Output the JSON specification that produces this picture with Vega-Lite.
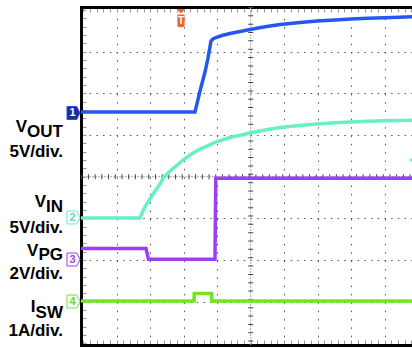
{
  "$schema": "https://vega.github.io/schema/vega-lite/v6.json",
  "width": 331,
  "height": 338,
  "autosize": {"type": "none"},
  "padding": {"left": 81, "top": 7, "right": 0, "bottom": 3},
  "background": "white",
  "config": {"view": {"stroke": null}},
  "datasets": {
    "traces": [
      {"ch": "VOUT", "t": -0.07, "v": 5.55},
      {"ch": "VOUT", "t": 3.337, "v": 5.55},
      {"ch": "VOUT", "t": 3.487, "v": 6.055},
      {"ch": "VOUT", "t": 3.636, "v": 6.511},
      {"ch": "VOUT", "t": 3.725, "v": 6.847},
      {"ch": "VOUT", "t": 3.815, "v": 7.254},
      {"ch": "VOUT", "t": 3.875, "v": 7.302},
      {"ch": "VOUT", "t": 3.964, "v": 7.338},
      {"ch": "VOUT", "t": 4.143, "v": 7.386},
      {"ch": "VOUT", "t": 4.382, "v": 7.434},
      {"ch": "VOUT", "t": 4.681, "v": 7.482},
      {"ch": "VOUT", "t": 4.979, "v": 7.53},
      {"ch": "VOUT", "t": 5.427, "v": 7.595},
      {"ch": "VOUT", "t": 5.875, "v": 7.65},
      {"ch": "VOUT", "t": 6.472, "v": 7.698},
      {"ch": "VOUT", "t": 6.979, "v": 7.734},
      {"ch": "VOUT", "t": 7.516, "v": 7.758},
      {"ch": "VOUT", "t": 7.994, "v": 7.782},
      {"ch": "VOUT", "t": 8.501, "v": 7.799},
      {"ch": "VOUT", "t": 8.979, "v": 7.813},
      {"ch": "VOUT", "t": 9.457, "v": 7.825},
      {"ch": "VOUT", "t": 9.85, "v": 7.835},
      {"ch": "VIN", "t": -0.07, "v": 3.01},
      {"ch": "VIN", "t": 1.696, "v": 3.01},
      {"ch": "VIN", "t": 1.785, "v": 3.177},
      {"ch": "VIN", "t": 1.875, "v": 3.321},
      {"ch": "VIN", "t": 1.996, "v": 3.465},
      {"ch": "VIN", "t": 2.143, "v": 3.657},
      {"ch": "VIN", "t": 2.293, "v": 3.825},
      {"ch": "VIN", "t": 2.385, "v": 3.969},
      {"ch": "VIN", "t": 2.594, "v": 4.137},
      {"ch": "VIN", "t": 2.773, "v": 4.257},
      {"ch": "VIN", "t": 2.982, "v": 4.4},
      {"ch": "VIN", "t": 3.188, "v": 4.52},
      {"ch": "VIN", "t": 3.487, "v": 4.664},
      {"ch": "VIN", "t": 3.696, "v": 4.736},
      {"ch": "VIN", "t": 3.994, "v": 4.844},
      {"ch": "VIN", "t": 4.382, "v": 4.94},
      {"ch": "VIN", "t": 4.979, "v": 5.048},
      {"ch": "VIN", "t": 5.427, "v": 5.12},
      {"ch": "VIN", "t": 5.875, "v": 5.18},
      {"ch": "VIN", "t": 6.472, "v": 5.228},
      {"ch": "VIN", "t": 6.979, "v": 5.264},
      {"ch": "VIN", "t": 7.516, "v": 5.293},
      {"ch": "VIN", "t": 7.994, "v": 5.312},
      {"ch": "VIN", "t": 8.501, "v": 5.329},
      {"ch": "VIN", "t": 8.979, "v": 5.341},
      {"ch": "VIN", "t": 9.457, "v": 5.348},
      {"ch": "VIN", "t": 9.85, "v": 5.353},
      {"ch": "VPG", "t": -0.07, "v": 2.278},
      {"ch": "VPG", "t": 1.875, "v": 2.278},
      {"ch": "VPG", "t": 1.949, "v": 2.02},
      {"ch": "VPG", "t": 3.934, "v": 2.02},
      {"ch": "VPG", "t": 3.958, "v": 3.962},
      {"ch": "VPG", "t": 9.85, "v": 3.962},
      {"ch": "ISW", "t": -0.07, "v": 1.019},
      {"ch": "ISW", "t": 3.31, "v": 1.019},
      {"ch": "ISW", "t": 3.316, "v": 1.199},
      {"ch": "ISW", "t": 3.83, "v": 1.199},
      {"ch": "ISW", "t": 3.836, "v": 1.019},
      {"ch": "ISW", "t": 9.85, "v": 1.019}
    ],
    "grounds": [
      {"ch": "VOUT", "num": "1", "v": 5.528},
      {"ch": "VIN", "num": "2", "v": 3.022},
      {"ch": "VPG", "num": "3", "v": 2.014},
      {"ch": "ISW", "num": "4", "v": 1.007}
    ],
    "labels": [
      {"text": "V", "t": -1.678, "v": 5.072},
      {"text": "OUT", "t": -0.603, "v": 4.952},
      {"text": "5V/div.", "t": -0.603, "v": 4.48},
      {"text": "V", "t": -1.11, "v": 3.281},
      {"text": "IN", "t": -0.603, "v": 3.153},
      {"text": "5V/div.", "t": -0.603, "v": 2.65},
      {"text": "V", "t": -1.337, "v": 2.106},
      {"text": "PG", "t": -0.603, "v": 1.998},
      {"text": "2V/div.", "t": -0.603, "v": 1.54},
      {"text": "I", "t": -1.421, "v": 0.748},
      {"text": "SW", "t": -0.603, "v": 0.612},
      {"text": "1A/div.", "t": -0.603, "v": 0.17}
    ],
    "trigger": [{"label": "T", "t": 2.919}],
    "level": [{"ch": "VIN", "t": 9.785, "v": 4.4}]
  },
  "resolve": {"axis": {"x": "independent", "y": "independent"}, "scale": {"fill": "independent"}},
  "layer": [
    {
      "data": {"values": [{}]},
      "mark": {"type": "rule", "color": "#aaaaaa", "strokeDash": [2, 1], "strokeWidth": 1},
      "encoding": {
        "x": {"datum": 5, "type": "quantitative", "scale": {"domain": [-0.0657, 9.815], "nice": false, "zero": false},
          "axis": {"orient": "bottom", "values": [1, 2, 3, 4, 6, 7, 8, 9], "grid": true, "gridColor": "#555555", "gridDash": [1.5, 6.84], "gridWidth": 1, "domain": false, "ticks": false, "labels": false, "title": null}}
      }
    },
    {
      "data": {"values": [{}]},
      "mark": {"type": "rule", "color": "#444444", "strokeDash": [1, 7.34], "strokeWidth": 5},
      "encoding": {
        "x": {"datum": 5, "type": "quantitative", "scale": {"domain": [-0.0657, 9.815], "nice": false, "zero": false}, "axis": null}
      }
    },
    {
      "data": {"values": [{}]},
      "mark": {"type": "rule", "color": "#aaaaaa", "strokeDash": [2, 1], "strokeWidth": 1},
      "encoding": {
        "y": {"datum": 4, "type": "quantitative", "scale": {"domain": [-0.036, 8.07], "nice": false, "zero": false},
          "axis": {"orient": "left", "values": [1, 2, 3, 5, 6, 7], "grid": true, "gridColor": "#555555", "gridDash": [1.5, 5.2], "gridDashOffset": 5.25, "gridWidth": 1, "domain": false, "ticks": false, "labels": false, "title": null}}
      }
    },
    {
      "data": {"values": [{}]},
      "mark": {"type": "rule", "color": "#444444", "strokeDash": [1, 5.7], "strokeDashOffset": 5.25, "strokeWidth": 5},
      "encoding": {
        "y": {"datum": 4, "type": "quantitative", "scale": {"domain": [-0.036, 8.07], "nice": false, "zero": false}, "axis": null}
      }
    },
    {
      "data": {"name": "traces"},
      "mark": {"type": "line", "clip": true, "strokeWidth": 3.5, "interpolate": "linear"},
      "encoding": {
        "x": {"field": "t", "type": "quantitative", "scale": {"domain": [-0.0657, 9.815], "nice": false, "zero": false},
          "axis": {"orient": "bottom", "values": [0,0.2,0.4,0.6,0.8,1,1.2,1.4,1.6,1.8,2,2.2,2.4,2.6,2.8,3,3.2,3.4,3.6,3.8,4,4.2,4.4,4.6,4.8,5,5.2,5.4,5.6,5.8,6,6.2,6.4,6.6,6.8,7,7.2,7.4,7.6,7.8,8,8.2,8.4,8.6,8.8,9,9.2,9.4,9.6,9.8], "grid": false, "domain": true, "domainColor": "#000000", "domainWidth": 3, "domainCap": "square", "ticks": true, "tickColor": "#999999", "tickSize": -5, "tickWidth": 1, "labels": false, "title": null}},
        "y": {"field": "v", "type": "quantitative", "scale": {"domain": [-0.036, 8.07], "nice": false, "zero": false},
          "axis": {"orient": "left", "values": [0,0.2,0.4,0.6,0.8,1,1.2,1.4,1.6,1.8,2,2.2,2.4,2.6,2.8,3,3.2,3.4,3.6,3.8,4,4.2,4.4,4.6,4.8,5,5.2,5.4,5.6,5.8,6,6.2,6.4,6.6,6.8,7,7.2,7.4,7.6,7.8,8], "grid": false, "domain": true, "domainColor": "#000000", "domainWidth": 3, "domainCap": "square", "ticks": true, "tickColor": "#999999", "tickSize": -5, "tickWidth": 1, "labels": false, "title": null}},
        "stroke": {"field": "ch", "type": "nominal", "scale": {"domain": ["VOUT", "VIN", "VPG", "ISW"], "range": ["#2457ee", "#66f0c8", "#9b3ff0", "#72e622"]}, "legend": null},
        "detail": {"field": "ch"}
      }
    },
    {
      "data": {"name": "grounds"},
      "mark": {"type": "point", "shape": "M-1,-1H0.5L1,0L0.5,1H-1Z", "size": 169, "filled": true, "strokeWidth": 1, "opacity": 1},
      "encoding": {
        "x": {"datum": -0.29, "type": "quantitative", "scale": {"domain": [-0.0657, 9.815], "nice": false, "zero": false},
          "axis": {"orient": "top", "values": [0,0.2,0.4,0.6,0.8,1,1.2,1.4,1.6,1.8,2,2.2,2.4,2.6,2.8,3,3.2,3.4,3.6,3.8,4,4.2,4.4,4.6,4.8,5,5.2,5.4,5.6,5.8,6,6.2,6.4,6.6,6.8,7,7.2,7.4,7.6,7.8,8,8.2,8.4,8.6,8.8,9,9.2,9.4,9.6,9.8], "grid": false, "domain": true, "domainColor": "#000000", "domainWidth": 3, "domainCap": "square", "ticks": true, "tickColor": "#999999", "tickSize": -5, "tickWidth": 1, "labels": false, "title": null}},
        "y": {"field": "v", "type": "quantitative", "scale": {"domain": [-0.036, 8.07], "nice": false, "zero": false}, "axis": null},
        "fill": {"field": "ch", "type": "nominal", "scale": {"domain": ["VOUT", "VIN", "VPG", "ISW"], "range": ["#1b2c9c", "#ffffff", "#ffffff", "#ffffff"]}, "legend": null},
        "stroke": {"field": "ch", "type": "nominal", "scale": {"domain": ["VOUT", "VIN", "VPG", "ISW"], "range": ["#2457ee", "#66f0c8", "#9b3ff0", "#72e622"]}, "legend": null}
      }
    },
    {
      "data": {"name": "grounds"},
      "mark": {"type": "text", "font": "Liberation Sans", "fontWeight": "bold", "fontSize": 11, "align": "center", "baseline": "middle", "dy": 0.5},
      "encoding": {
        "x": {"datum": -0.32, "type": "quantitative", "scale": {"domain": [-0.0657, 9.815], "nice": false, "zero": false}, "axis": null},
        "y": {"field": "v", "type": "quantitative", "scale": {"domain": [-0.036, 8.07], "nice": false, "zero": false}, "axis": null},
        "text": {"field": "num"},
        "fill": {"field": "ch", "type": "nominal", "scale": {"domain": ["VOUT", "VIN", "VPG", "ISW"], "range": ["#ffffff", "#55e0b8", "#9b3ff0", "#66dd22"]}, "legend": null}
      }
    },
    {
      "data": {"name": "labels"},
      "mark": {"type": "text", "font": "Liberation Sans", "fontWeight": "bold", "fontSize": 17, "align": "right", "baseline": "alphabetic", "color": "#000000"},
      "encoding": {
        "x": {"field": "t", "type": "quantitative", "scale": {"domain": [-0.0657, 9.815], "nice": false, "zero": false}, "axis": null},
        "y": {"field": "v", "type": "quantitative", "scale": {"domain": [-0.036, 8.07], "nice": false, "zero": false}, "axis": null},
        "text": {"field": "text"}
      }
    },
    {
      "data": {"name": "trigger"},
      "mark": {"type": "point", "shape": "M-0.42,-0.85H0.42L0,-0.4Z M-0.36,-0.3H0.36V0.8Q0.36,0.98 0,0.98Q-0.36,0.98 -0.36,0.8Z", "size": 400, "filled": true, "color": "#f0642a", "opacity": 1},
      "encoding": {
        "x": {"field": "t", "type": "quantitative", "scale": {"domain": [-0.0657, 9.815], "nice": false, "zero": false}, "axis": null},
        "y": {"datum": 7.818, "type": "quantitative", "scale": {"domain": [-0.036, 8.07], "nice": false, "zero": false}, "axis": null}
      }
    },
    {
      "data": {"name": "trigger"},
      "mark": {"type": "text", "font": "Liberation Sans", "fontWeight": "bold", "fontSize": 10, "align": "center", "baseline": "middle", "color": "#ffffff"},
      "encoding": {
        "x": {"field": "t", "type": "quantitative", "scale": {"domain": [-0.0657, 9.815], "nice": false, "zero": false}, "axis": null},
        "y": {"datum": 7.734, "type": "quantitative", "scale": {"domain": [-0.036, 8.07], "nice": false, "zero": false}, "axis": null},
        "text": {"field": "label"}
      }
    },
    {
      "data": {"name": "level"},
      "mark": {"type": "point", "shape": "triangle-left", "size": 30, "filled": true, "color": "#66f0c8", "opacity": 1},
      "encoding": {
        "x": {"field": "t", "type": "quantitative", "scale": {"domain": [-0.0657, 9.815], "nice": false, "zero": false}, "axis": null},
        "y": {"field": "v", "type": "quantitative", "scale": {"domain": [-0.036, 8.07], "nice": false, "zero": false}, "axis": null}
      }
    }
  ]
}
